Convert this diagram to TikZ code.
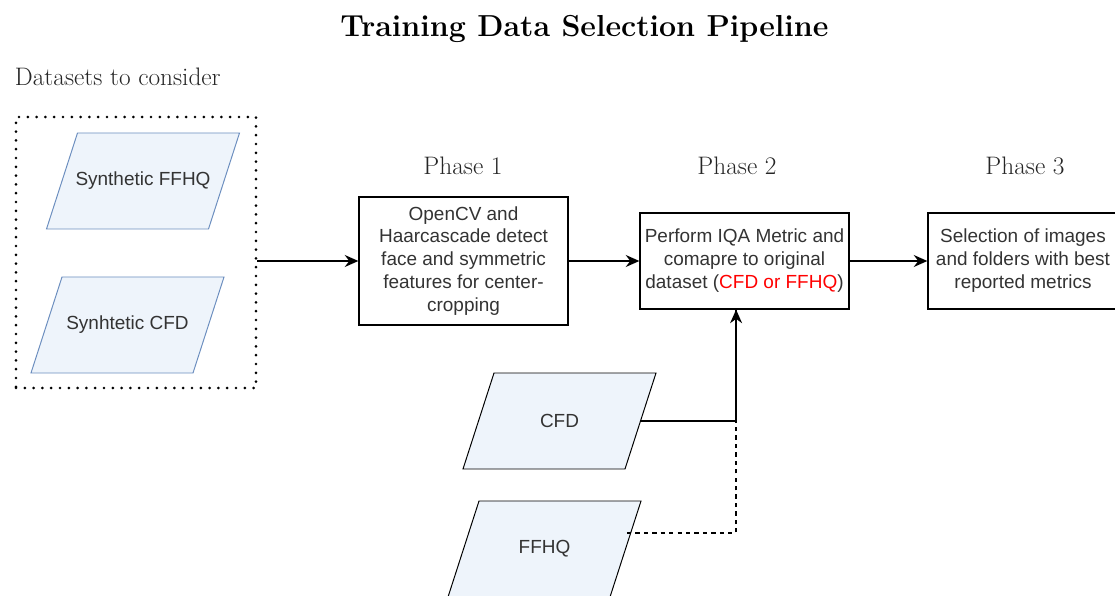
\documentclass[tikz,border=0pt]{standalone}
\usepackage{fontspec}
\newfontfamily\boxfont{Liberation Sans}
\usepackage{tikz}
\usetikzlibrary{arrows.meta,calc}
\definecolor{inkT}{HTML}{333333}
\definecolor{pgfill}{HTML}{EEF4FB}
\definecolor{pgblue}{HTML}{6C8EBF}
\definecolor{redT}{HTML}{FF0000}

% parallelogram: name, x, y, text, border colour
\newcommand{\pgramnode}[5]{%
  \draw[pgline, draw=#5] (#2-96.5,#3+48) -- ++(162,0) -- ++(31,-96) -- ++(-162,0) -- cycle;
  \node[pgtext] (#1) at (#2,#3) {#4};
  \coordinate (#1-r) at (#2+81,#3);}

\begin{document}
\begin{tikzpicture}[
  x=0.25mm, y=-0.25mm,
  stepbox/.style={rectangle, draw=black, line width=0.9pt, align=center, text=inkT, font=\boxfont\fontsize{13.5}{16.3}\selectfont, inner sep=0pt},
  pgline/.style={line width=0.7pt, fill=pgfill},
  pgtext/.style={text=inkT, font=\boxfont\fontsize{13.5}{16}\selectfont, inner sep=0pt},
  phase/.style={font=\fontsize{18}{21}\selectfont, text=black!85},
  arr/.style={-{Stealth[length=3.4mm,width=3mm]}, line width=1pt}
]
\useasboundingbox (0,0) rectangle (1115,596);

% Title
\node[font=\bfseries\fontsize{21.6}{25}\selectfont] (title) at (584.5,29) {Training Data Selection Pipeline};
\node[phase, anchor=west] (dslabel) at (10,77) {Datasets to consider};

% Datasets to consider
\node[draw=black, line width=2.1pt, dash pattern=on 0pt off 2.2mm, line cap=round, minimum width=60mm, minimum height=67.75mm] (datasets) at (136,252.5) {};
\pgramnode{sffhq}{143}{181}{Synthetic FFHQ}{pgblue}
\pgramnode{scfd}{127.5}{325}{Synhtetic CFD}{pgblue}

% Phases
\node[phase] (p1) at (463,166) {Phase 1};
\node[phase] (p2) at (737,166) {Phase 2};
\node[phase] (p3) at (1025,166) {Phase 3};

\node[stepbox, minimum width=52.25mm, minimum height=32mm] (phase1) at (463.5,261)
  {OpenCV and\\Haarcascade detect\\face and symmetric\\features for center-\\cropping};
\node[stepbox, minimum width=52.25mm, minimum height=24mm] (phase2) at (744.5,261)
  {Perform IQA Metric and\\comapre to original\\dataset ({\color{redT}CFD or FFHQ})};
\node[stepbox, minimum width=47.5mm, minimum height=24mm] (phase3) at (1023,261)
  {Selection of images\\and folders with best\\reported metrics};

% Original datasets
\pgramnode{cfd}{559.5}{421}{CFD}{black}
\pgramnode{ffhq}{544.5}{549}{FFHQ}{black}
\coordinate (ffhq-out) at (627,533);

% Connectors
\coordinate (in2) at ([xshift=-2.1mm]phase2.south);
\draw[arr] (phase1.west -| datasets.east) -- (phase1.west);
\draw[arr] (phase1.east) -- (phase2.west);
\draw[arr] (phase2.east) -- (phase3.west);
\draw[arr] (cfd-r) -| (in2);
\draw[line width=0.9pt, dashed] (ffhq-out) -| (in2);
\end{tikzpicture}
\end{document}
